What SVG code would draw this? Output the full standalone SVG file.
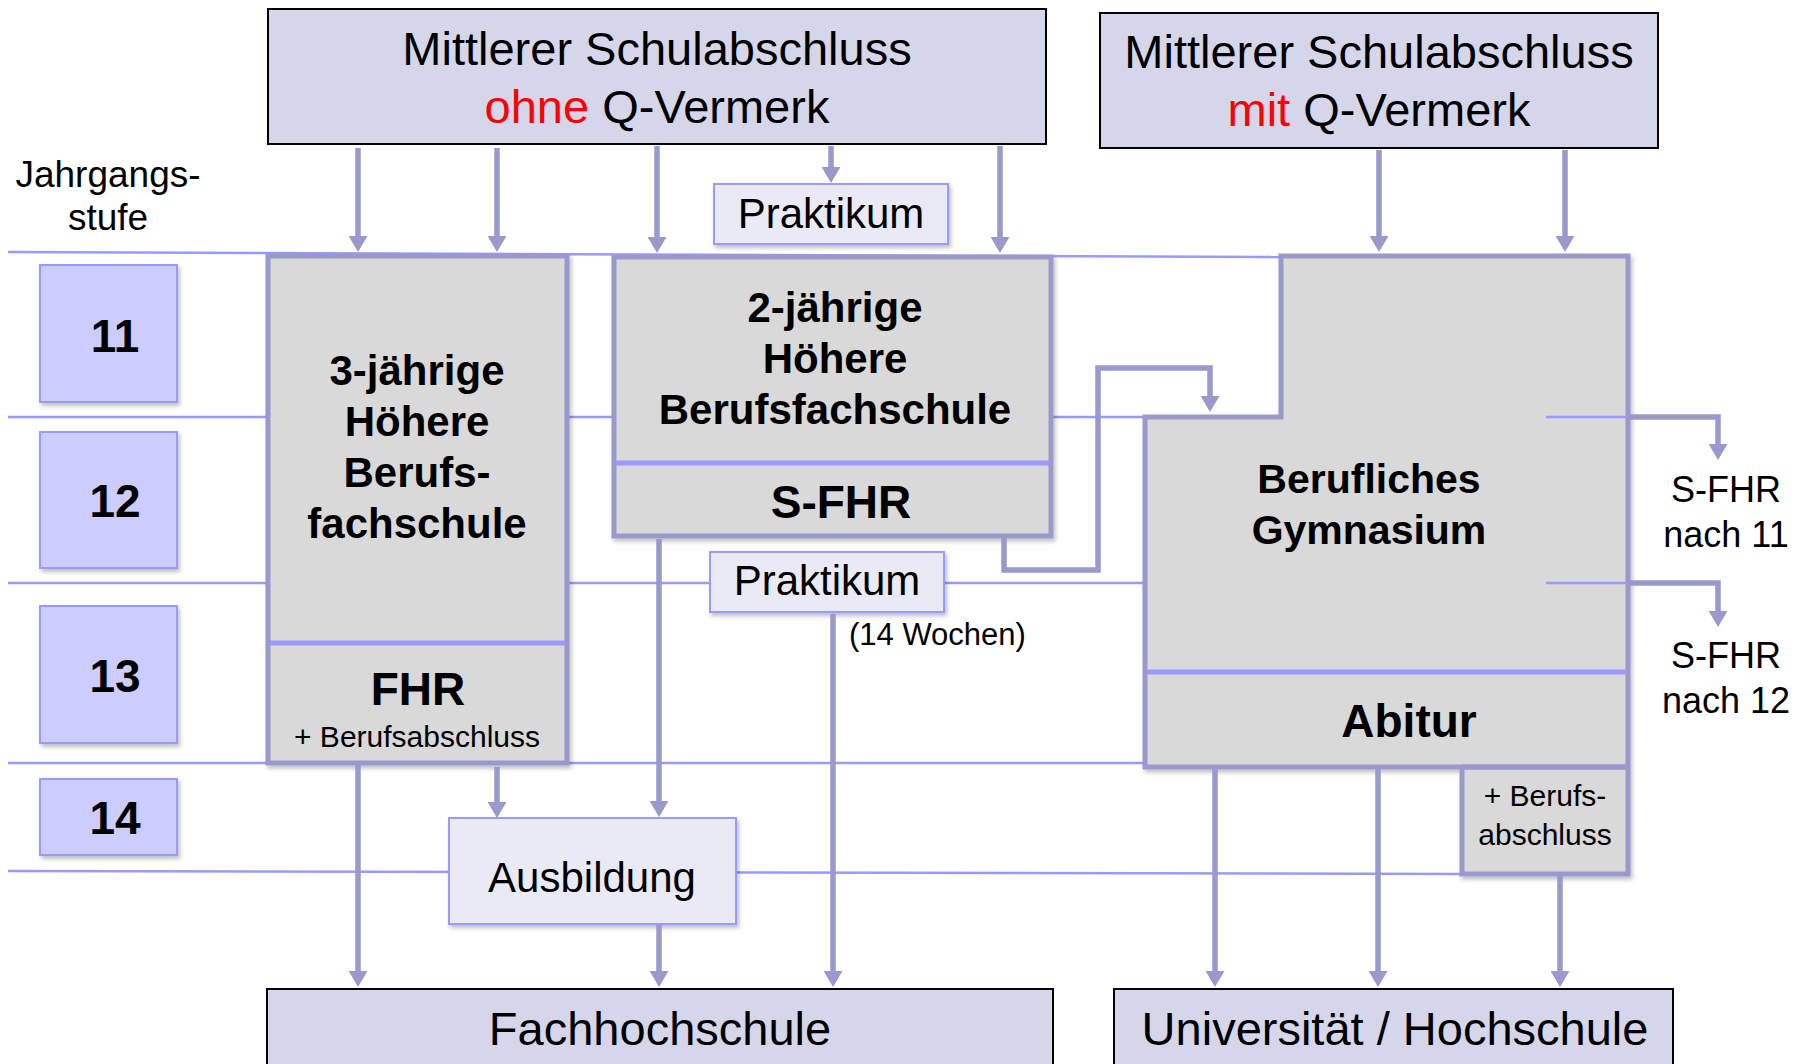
<svg xmlns="http://www.w3.org/2000/svg" width="1808" height="1064" viewBox="0 0 1808 1064">
<style>
text{font-family:"Liberation Sans",Arial,sans-serif;fill:#000;text-anchor:middle}
.t47{font-size:47px}
.t42{font-size:42px}
.b42{font-size:42px;font-weight:bold}
.b46{font-size:46px;font-weight:bold}
.b41{font-size:41px;font-weight:bold}
.t36{font-size:36px}
.t30{font-size:30px}
.red{fill:#ff0000}
.grade{stroke:#9999ff;stroke-width:2.5;fill:none}
.top{fill:#d6d6ea;stroke:#000;stroke-width:2}
.gray{fill:#d9d9d9;stroke:#9999cc;stroke-width:5}
.div{stroke:#9999ff;stroke-width:5}
.light{fill:#eaeaf6;stroke:#9999ff;stroke-width:2}
.year{fill:#ccccff;stroke:#9999ff;stroke-width:2}
.conn{stroke:#9999cc;stroke-width:5.5;fill:none}
</style>
<defs>
<marker id="arr" markerUnits="userSpaceOnUse" markerWidth="17" markerHeight="19" viewBox="0 0 16 19" refX="5" refY="9.5" orient="auto">
<path d="M0,0 L16,9.5 L0,19 Z" fill="#9999cc"/>
</marker>
<filter id="sh" x="-10%" y="-10%" width="130%" height="130%">
<feDropShadow dx="2" dy="3" stdDeviation="2" flood-color="#000" flood-opacity="0.25"/>
</filter>
</defs>
<rect width="1808" height="1064" fill="#fff"/>

<g id="grade-lines">
<line class="grade" x1="8" y1="252" x2="1281" y2="257"/>
<line class="grade" x1="8" y1="417" x2="1145" y2="417"/>
<line class="grade" x1="8" y1="583" x2="1145" y2="583"/>
<line class="grade" x1="8" y1="763" x2="1281" y2="763"/>
<line class="grade" x1="8" y1="871" x2="1462" y2="874"/>
</g>

<g id="jahrgangsstufe">
<text x="108" y="187" style="font-size:37px">Jahrgangs-</text>
<text x="108" y="230" style="font-size:37px">stufe</text>
</g>
<g id="year11"><rect class="year" x="40" y="265" width="137" height="137" filter="url(#sh)"/><text class="b46" x="115" y="352">11</text></g>
<g id="year12"><rect class="year" x="40" y="432" width="137" height="136" filter="url(#sh)"/><text class="b46" x="115" y="517">12</text></g>
<g id="year13"><rect class="year" x="40" y="606" width="137" height="137" filter="url(#sh)"/><text class="b46" x="115" y="692">13</text></g>
<g id="year14"><rect class="year" x="40" y="779" width="137" height="76" filter="url(#sh)"/><text class="b46" x="115" y="834">14</text></g>

<g id="msa-ohne">
<rect class="top" x="268" y="9" width="778" height="135"/>
<text class="t47" x="657" y="65">Mittlerer Schulabschluss</text>
<text class="t47" x="657" y="123"><tspan class="red">ohne</tspan> Q-Vermerk</text>
</g>
<g id="msa-mit">
<rect class="top" x="1100" y="13" width="558" height="135"/>
<text class="t47" x="1379" y="68">Mittlerer Schulabschluss</text>
<text class="t47" x="1379" y="126"><tspan class="red">mit</tspan> Q-Vermerk</text>
</g>

<g id="praktikum-top">
<rect class="light" x="714" y="184" width="234" height="60" filter="url(#sh)"/>
<text class="t42" x="831" y="228">Praktikum</text>
</g>

<g id="hbfs3">
<rect class="gray" x="268" y="256" width="299" height="507" filter="url(#sh)"/>
<line class="div" x1="270" y1="643" x2="565" y2="643"/>
<text class="b42" x="417" y="385">3-jährige</text>
<text class="b42" x="417" y="436">Höhere</text>
<text class="b42" x="417" y="487">Berufs-</text>
<text class="b42" x="417" y="538">fachschule</text>
<text class="b46" x="418" y="705">FHR</text>
<text class="t30" x="417" y="747">+ Berufsabschluss</text>
</g>

<g id="hbfs2">
<rect class="gray" x="614" y="257" width="437" height="279" filter="url(#sh)"/>
<line class="div" x1="616" y1="463" x2="1049" y2="463"/>
<text class="b42" x="835" y="322">2-jährige</text>
<text class="b42" x="835" y="373">Höhere</text>
<text class="b42" x="835" y="424">Berufsfachschule</text>
<text class="b46" x="841" y="518">S-FHR</text>
</g>

<g id="praktikum-mid">
<rect class="light" x="710" y="552" width="234" height="60" filter="url(#sh)"/>
<text class="t42" x="827" y="595">Praktikum</text>
<text x="849" y="645" style="font-size:31px;text-anchor:start">(14 Wochen)</text>
</g>

<g id="bg">
<path class="gray" d="M1281,256 H1628 V874 H1462 V767 H1145 V417 H1281 Z" filter="url(#sh)"/>
<line class="div" x1="1147" y1="672" x2="1626" y2="672"/>
<line class="conn" x1="1462" y1="767" x2="1628" y2="767"/>
<line class="grade" x1="1546" y1="417" x2="1626" y2="417"/>
<line class="grade" x1="1546" y1="583" x2="1626" y2="583"/>
<text class="b41" x="1369" y="493">Berufliches</text>
<text class="b41" x="1369" y="544">Gymnasium</text>
<text class="b46" x="1409" y="737">Abitur</text>
<text class="t30" x="1545" y="806">+ Berufs-</text>
<text class="t30" x="1545" y="845">abschluss</text>
</g>

<g id="sfhr11"><text class="t36" x="1726" y="502">S-FHR</text><text class="t36" x="1726" y="547">nach 11</text></g>
<g id="sfhr12"><text class="t36" x="1726" y="668">S-FHR</text><text class="t36" x="1726" y="713">nach 12</text></g>

<g id="ausbildung">
<rect class="light" x="449" y="818" width="287" height="106" filter="url(#sh)"/>
<text class="t42" x="592" y="892">Ausbildung</text>
</g>

<g id="fachhochschule">
<rect class="top" x="267" y="989" width="786" height="90"/>
<text class="t47" x="660" y="1045">Fachhochschule</text>
</g>
<g id="universitaet">
<rect class="top" x="1114" y="989" width="559" height="90"/>
<text class="t47" x="1395" y="1045">Universität / Hochschule</text>
</g>

<g id="connectors">
<line class="conn" x1="358" y1="148" x2="358" y2="241" marker-end="url(#arr)"/>
<line class="conn" x1="497" y1="148" x2="497" y2="241" marker-end="url(#arr)"/>
<line class="conn" x1="657" y1="146" x2="657" y2="242" marker-end="url(#arr)"/>
<line class="conn" x1="831" y1="146" x2="831" y2="172" marker-end="url(#arr)"/>
<line class="conn" x1="1000" y1="146" x2="1000" y2="242" marker-end="url(#arr)"/>
<line class="conn" x1="1379" y1="150" x2="1379" y2="241" marker-end="url(#arr)"/>
<line class="conn" x1="1565" y1="150" x2="1565" y2="241" marker-end="url(#arr)"/>
<path class="conn" d="M1004,538 V570 H1098 V368 H1210 V401" marker-end="url(#arr)"/>
<path class="conn" d="M1628,417 H1718 V449" marker-end="url(#arr)"/>
<path class="conn" d="M1628,583 H1718 V616" marker-end="url(#arr)"/>
<line class="conn" x1="358" y1="762" x2="358" y2="976" marker-end="url(#arr)"/>
<line class="conn" x1="497" y1="767" x2="497" y2="807" marker-end="url(#arr)"/>
<line class="conn" x1="659" y1="539" x2="659" y2="806" marker-end="url(#arr)"/>
<line class="conn" x1="659" y1="925" x2="659" y2="976" marker-end="url(#arr)"/>
<line class="conn" x1="833" y1="614" x2="833" y2="976" marker-end="url(#arr)"/>
<line class="conn" x1="1215" y1="769" x2="1215" y2="976" marker-end="url(#arr)"/>
<line class="conn" x1="1378" y1="769" x2="1378" y2="976" marker-end="url(#arr)"/>
<line class="conn" x1="1560" y1="876" x2="1560" y2="976" marker-end="url(#arr)"/>
</g>
</svg>
